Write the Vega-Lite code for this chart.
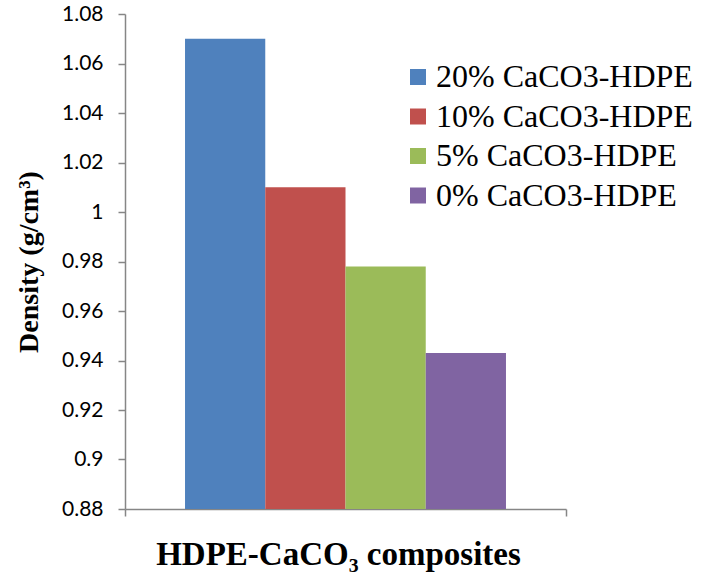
{
  "$schema": "https://vega.github.io/schema/vega-lite/v6.json",
  "autosize": {"type": "none"},
  "padding": {"left": 125, "top": 14, "right": 135, "bottom": 64},
  "width": 441,
  "height": 495,
  "background": "white",
  "data": {
    "values": [
      {"group": "HDPE-CaCO3", "series": "20% CaCO3-HDPE", "density": 1.07},
      {"group": "HDPE-CaCO3", "series": "10% CaCO3-HDPE", "density": 1.01},
      {"group": "HDPE-CaCO3", "series": "5% CaCO3-HDPE", "density": 0.978},
      {"group": "HDPE-CaCO3", "series": "0% CaCO3-HDPE", "density": 0.943}
    ]
  },
  "mark": {"type": "bar", "clip": true},
  "encoding": {
    "x": {
      "field": "group",
      "type": "nominal",
      "scale": {"paddingInner": 0, "paddingOuter": 0},
      "axis": {
        "title": "HDPE-CaCO₃ composites",
        "titleFont": "Liberation Serif",
        "titleFontWeight": "bold",
        "titleFontSize": 33,
        "titleColor": "black",
        "titlePadding": 22,
        "titleX": 213,
        "labels": false,
        "tickBand": "extent",
        "tickSize": 7,
        "tickColor": "#868686",
        "tickWidth": 1.5,
        "domainColor": "#868686",
        "domainWidth": 1.5
      }
    },
    "xOffset": {
      "field": "series",
      "type": "nominal",
      "sort": ["20% CaCO3-HDPE", "10% CaCO3-HDPE", "5% CaCO3-HDPE", "0% CaCO3-HDPE"],
      "scale": {"paddingInner": 0, "paddingOuter": 0.748}
    },
    "y": {
      "field": "density",
      "type": "quantitative",
      "scale": {"domain": [0.88, 1.08], "nice": false, "zero": false},
      "axis": {
        "title": "Density (g/cm³)",
        "titleFont": "Liberation Serif",
        "titleFontWeight": "bold",
        "titleFontSize": 28,
        "titleColor": "black",
        "titlePadding": 18,
        "values": [0.88, 0.9, 0.92, 0.94, 0.96, 0.98, 1, 1.02, 1.04, 1.06, 1.08],
        "format": "~g",
        "labelFont": "Lato",
        "labelFontSize": 21,
        "labelColor": "black",
        "labelPadding": 15,
        "grid": false,
        "tickSize": 7,
        "tickColor": "#868686",
        "tickWidth": 1.5,
        "domainColor": "#868686",
        "domainWidth": 1.5
      }
    },
    "color": {
      "field": "series",
      "type": "nominal",
      "sort": ["20% CaCO3-HDPE", "10% CaCO3-HDPE", "5% CaCO3-HDPE", "0% CaCO3-HDPE"],
      "scale": {"range": ["#4F81BD", "#C0504D", "#9BBB59", "#8064A2"]},
      "legend": {
        "title": null,
        "orient": "none",
        "legendX": 277,
        "legendY": 47,
        "padding": 0,
        "symbolType": "square",
        "symbolSize": 256,
        "symbolStrokeWidth": 0,
        "symbolOpacity": 1,
        "labelFont": "Liberation Serif",
        "labelFontSize": 32,
        "labelColor": "black",
        "labelOffset": 2,
        "labelLimit": 500,
        "rowPadding": 7.5
      }
    }
  },
  "config": {
    "view": {"stroke": null},
    "font": "Liberation Serif",
    "legend": {"labelFont": "Liberation Serif", "labelFontSize": 32}
  }
}
